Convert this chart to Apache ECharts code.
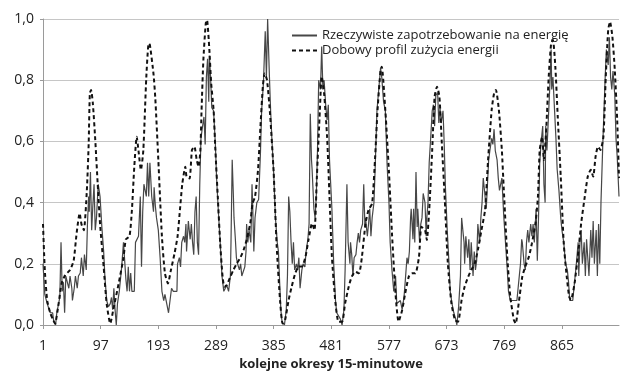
<!DOCTYPE html>
<html>
<head>
<meta charset="utf-8">
<script src="https://cdn.jsdelivr.net/npm/echarts@6/dist/echarts.min.js"></script>
<style>
  html, body { margin: 0; padding: 0; background: #fff; }
  #chart { width: 620px; height: 372px; }
</style>
</head>
<body>
<div id="chart"></div>
<script>
// x axis: 15-minute periods, labels every 96 (one day)
const xTicks = [1, 97, 193, 289, 385, 481, 577, 673, 769, 865];

const actualName = 'Rzeczywiste zapotrzebowanie na energię';
const profileName = 'Dobowy profil zużycia energii';

const actualPeriods = [
  1, 4, 8, 13, 17, 19, 22, 24, 27, 29, 31, 33, 35, 37, 39, 42, 44, 46, 49, 50,
  53, 55, 58, 60, 63, 65, 68, 70, 73, 75, 77, 78, 80, 82, 84, 86, 88, 90, 93, 96,
  99, 102, 104, 107, 110, 113, 115, 117, 119, 121, 123, 125, 128, 132, 135, 138, 139, 141, 143, 145,
  147, 149, 153, 155, 157, 160, 163, 165, 167, 169, 173, 175, 177, 179, 182, 185, 186, 188, 190, 193,
  196, 199, 202, 204, 207, 210, 213, 215, 218, 221, 224, 225, 228, 230, 232, 235, 237, 239, 240, 243,
  246, 248, 250, 252, 254, 256, 258, 260, 262, 264, 266, 269, 271, 273, 275, 277, 278, 280, 282, 285,
  288, 290, 293, 296, 299, 302, 304, 307, 310, 313, 314, 316, 318, 319, 321, 323, 325, 328, 330, 332,
  335, 337, 339, 340, 342, 344, 347, 349, 350, 352, 354, 357, 360, 363, 365, 368, 371, 373, 375, 378,
  380, 382, 385, 388, 391, 393, 395, 397, 399, 403, 406, 408, 410, 412, 414, 416, 418, 420, 423, 425,
  427, 429, 432, 434, 437, 439, 442, 444, 446, 448, 449, 452, 454, 456, 458, 460, 463, 465, 467, 469,
  472, 474, 476, 478, 482, 485, 488, 490, 493, 496, 499, 502, 504, 507, 509, 512, 513, 515, 517, 519,
  522, 524, 526, 528, 530, 533, 535, 537, 538, 541, 543, 545, 547, 549, 552, 554, 557, 560, 563, 565,
  568, 571, 574, 577, 579, 582, 585, 588, 590, 593, 596, 599, 602, 604, 607, 609, 611, 613, 614, 617,
  618, 620, 622, 624, 625, 628, 630, 632, 634, 637, 639, 640, 642, 644, 647, 649, 651, 653, 655, 658,
  660, 662, 664, 667, 669, 671, 674, 677, 679, 682, 685, 688, 690, 693, 696, 698, 700, 702, 703, 705,
  708, 710, 712, 714, 717, 719, 721, 723, 725, 728, 730, 732, 734, 737, 739, 741, 743, 745, 748, 750,
  752, 754, 757, 759, 761, 763, 765, 768, 771, 774, 776, 779, 782, 785, 788, 790, 793, 796, 798, 799,
  802, 804, 806, 808, 810, 813, 815, 817, 819, 822, 824, 826, 828, 830, 833, 835, 837, 838, 840, 843,
  845, 847, 848, 850, 853, 855, 857, 860, 863, 865, 868, 871, 874, 876, 878, 880, 883, 885, 887, 889,
  892, 893, 895, 897, 899, 902, 904, 906, 908, 910, 913, 915, 917, 919, 922, 924, 926, 928, 930, 933,
  935, 937, 939, 942, 944, 946, 948, 950, 953, 955, 957, 960
];
const actualValues = [
  0.20, 0.10, 0.07, 0.04, 0.04, 0.01, 0.00, 0.04, 0.04, 0.09, 0.27, 0.11, 0.14, 0.04, 0.16, 0.16, 0.12, 0.16, 0.12, 0.08,
  0.12, 0.16, 0.12, 0.16, 0.17, 0.22, 0.16, 0.23, 0.18, 0.33, 0.42, 0.37, 0.50, 0.31, 0.39, 0.46, 0.31, 0.35, 0.46, 0.42,
  0.32, 0.24, 0.16, 0.08, 0.06, 0.07, 0.09, 0.05, 0.12, 0.05, 0.00, 0.07, 0.11, 0.19, 0.27, 0.27, 0.15, 0.11, 0.19, 0.11,
  0.17, 0.11, 0.11, 0.27, 0.27, 0.29, 0.42, 0.19, 0.37, 0.46, 0.42, 0.53, 0.42, 0.53, 0.42, 0.37, 0.45, 0.39, 0.35, 0.31,
  0.22, 0.11, 0.08, 0.10, 0.07, 0.04, 0.04, 0.12, 0.11, 0.11, 0.11, 0.20, 0.22, 0.19, 0.27, 0.29, 0.27, 0.33, 0.24, 0.34,
  0.28, 0.33, 0.27, 0.23, 0.37, 0.42, 0.27, 0.23, 0.46, 0.61, 0.64, 0.68, 0.59, 0.81, 0.87, 0.73, 0.88, 0.81, 0.71, 0.70,
  0.59, 0.48, 0.37, 0.27, 0.16, 0.11, 0.11, 0.13, 0.11, 0.16, 0.27, 0.54, 0.42, 0.35, 0.29, 0.22, 0.20, 0.18, 0.20, 0.16,
  0.16, 0.19, 0.24, 0.33, 0.27, 0.31, 0.27, 0.46, 0.40, 0.24, 0.35, 0.40, 0.41, 0.56, 0.70, 0.79, 0.96, 0.81, 1.00, 0.81,
  0.70, 0.61, 0.50, 0.35, 0.27, 0.24, 0.14, 0.05, 0.01, 0.00, 0.05, 0.16, 0.42, 0.37, 0.27, 0.20, 0.27, 0.18, 0.20, 0.18,
  0.22, 0.12, 0.18, 0.20, 0.19, 0.24, 0.28, 0.33, 0.69, 0.54, 0.51, 0.38, 0.35, 0.42, 0.57, 0.80, 0.77, 0.91, 0.77, 0.80,
  0.71, 0.67, 0.72, 0.54, 0.38, 0.20, 0.08, 0.04, 0.04, 0.02, 0.00, 0.05, 0.18, 0.46, 0.27, 0.20, 0.27, 0.23, 0.16, 0.22,
  0.23, 0.27, 0.30, 0.27, 0.31, 0.33, 0.46, 0.32, 0.35, 0.29, 0.33, 0.38, 0.29, 0.35, 0.40, 0.51, 0.70, 0.77, 0.84, 0.81,
  0.73, 0.70, 0.52, 0.40, 0.27, 0.18, 0.11, 0.16, 0.07, 0.07, 0.08, 0.05, 0.09, 0.14, 0.22, 0.20, 0.24, 0.35, 0.38, 0.28,
  0.38, 0.27, 0.50, 0.32, 0.38, 0.27, 0.33, 0.35, 0.43, 0.40, 0.29, 0.35, 0.40, 0.53, 0.63, 0.70, 0.72, 0.65, 0.75, 0.76,
  0.66, 0.71, 0.66, 0.70, 0.59, 0.45, 0.31, 0.20, 0.11, 0.07, 0.04, 0.02, 0.00, 0.06, 0.16, 0.35, 0.35, 0.27, 0.20, 0.29,
  0.22, 0.28, 0.18, 0.27, 0.16, 0.24, 0.18, 0.21, 0.33, 0.27, 0.35, 0.40, 0.48, 0.42, 0.38, 0.46, 0.54, 0.57, 0.61, 0.59,
  0.64, 0.57, 0.54, 0.48, 0.44, 0.46, 0.48, 0.36, 0.27, 0.18, 0.11, 0.08, 0.08, 0.08, 0.08, 0.08, 0.14, 0.20, 0.28, 0.27,
  0.20, 0.18, 0.27, 0.31, 0.27, 0.33, 0.29, 0.33, 0.27, 0.38, 0.21, 0.35, 0.53, 0.59, 0.65, 0.46, 0.40, 0.65, 0.57, 0.70,
  0.79, 0.90, 0.77, 0.81, 0.69, 0.61, 0.51, 0.44, 0.35, 0.31, 0.27, 0.20, 0.18, 0.14, 0.08, 0.08, 0.08, 0.08, 0.16, 0.20,
  0.27, 0.16, 0.27, 0.31, 0.20, 0.27, 0.16, 0.28, 0.22, 0.16, 0.31, 0.22, 0.34, 0.20, 0.31, 0.16, 0.33, 0.20, 0.40, 0.59,
  0.70, 0.81, 0.90, 0.85, 0.94, 0.81, 0.77, 0.83, 0.75, 0.61, 0.55, 0.42
];

// daily consumption profile (black dashed)
const profilePeriods = [
  1, 4, 8, 13, 18, 21, 27, 32, 38, 46, 52, 57, 62, 65, 69, 74, 77, 79, 81, 84,
  88, 92, 96, 102, 107, 113, 118, 127, 135, 139, 145, 149, 153, 157, 160, 164, 168, 173, 177, 179,
  185, 188, 193, 199, 204, 209, 214, 220, 225, 229, 233, 238, 240, 245, 249, 253, 257, 260, 263, 265,
  268, 272, 274, 278, 281, 285, 288, 292, 296, 300, 303, 307, 313, 318, 324, 329, 335, 340, 346, 350,
  354, 359, 363, 367, 370, 374, 379, 385, 390, 396, 400, 404, 410, 415, 421, 427, 432, 438, 443, 449,
  453, 457, 462, 465, 469, 474, 478, 482, 488, 493, 499, 504, 510, 515, 521, 527, 532, 538, 543, 549,
  554, 558, 563, 565, 571, 577, 582, 588, 593, 599, 604, 610, 615, 621, 627, 631, 637, 640, 644, 649,
  653, 657, 661, 665, 670, 675, 681, 687, 692, 698, 703, 709, 714, 720, 725, 731, 737, 742, 748, 752,
  755, 760, 765, 768, 774, 779, 785, 788, 793, 799, 804, 810, 815, 821, 825, 828, 832, 835, 839, 843,
  847, 850, 854, 858, 863, 868, 873, 877, 880, 886, 892, 897, 903, 908, 913, 917, 921, 925, 929, 934,
  938, 942, 945, 949, 953, 957, 960
];
const profileValues = [
  0.33, 0.18, 0.08, 0.04, 0.016, 0.005, 0.07, 0.136, 0.163, 0.18, 0.21, 0.30, 0.365, 0.33, 0.31, 0.44, 0.59, 0.757, 0.768, 0.724,
  0.605, 0.463, 0.33, 0.19, 0.07, 0.005, 0.05, 0.136, 0.22, 0.28, 0.29, 0.375, 0.517, 0.615, 0.57, 0.507, 0.57, 0.81, 0.92, 0.915,
  0.82, 0.74, 0.54, 0.289, 0.169, 0.136, 0.18, 0.234, 0.289, 0.376, 0.463, 0.517, 0.485, 0.479, 0.572, 0.583, 0.539, 0.517, 0.572, 0.703,
  0.866, 0.986, 0.997, 0.899, 0.79, 0.703, 0.572, 0.419, 0.267, 0.158, 0.125, 0.131, 0.158, 0.18, 0.202, 0.218, 0.245, 0.278, 0.332, 0.398,
  0.419, 0.507, 0.648, 0.779, 0.822, 0.80, 0.69, 0.50, 0.26, 0.071, 0.005, 0.016, 0.082, 0.125, 0.169, 0.191, 0.191, 0.223, 0.278, 0.332,
  0.31, 0.485, 0.703, 0.812, 0.757, 0.615, 0.419, 0.223, 0.071, 0.011, 0.011, 0.071, 0.125, 0.158, 0.174, 0.169, 0.223, 0.332, 0.376, 0.398,
  0.55, 0.703, 0.833, 0.844, 0.70, 0.50, 0.30, 0.10, 0.011, 0.049, 0.103, 0.158, 0.169, 0.169, 0.223, 0.321, 0.31, 0.278, 0.376, 0.572,
  0.746, 0.779, 0.746, 0.594, 0.408, 0.202, 0.071, 0.016, 0.011, 0.082, 0.125, 0.158, 0.18, 0.202, 0.245, 0.31, 0.376, 0.539, 0.703, 0.757,
  0.768, 0.703, 0.57, 0.45, 0.223, 0.093, 0.016, 0.005, 0.071, 0.158, 0.191, 0.223, 0.267, 0.332, 0.419, 0.572, 0.615, 0.539, 0.648, 0.812,
  0.92, 0.931, 0.844, 0.681, 0.485, 0.267, 0.158, 0.093, 0.082, 0.136, 0.234, 0.332, 0.419, 0.485, 0.507, 0.485, 0.55, 0.583, 0.572, 0.615,
  0.812, 0.964, 0.991, 0.942, 0.833, 0.67, 0.48
];

const zip = (xs, ys) => xs.map((x, i) => [x, ys[i]]);

const chart = echarts.init(document.getElementById('chart'));
const font = 'Open Sans, Noto Sans, sans-serif';

chart.setOption({
  animation: false,
  backgroundColor: '#fff',
  grid: {left: 43, right: 1, top: 19, bottom: 47, containLabel: false, outerBoundsMode: 'none'},
  legend: {
    orient: 'vertical',
    left: 286,
    top: 24,
    itemWidth: 25,
    itemHeight: 14,
    itemGap: 2,
    itemStyle: {opacity: 0},
    textStyle: {fontFamily: font, fontSize: 13, color: '#222'},
    data: [actualName, profileName]
  },
  xAxis: {
    type: 'value',
    min: 1,
    max: 960,
    name: 'kolejne okresy 15-minutowe',
    nameLocation: 'middle',
    nameGap: 31,
    nameTextStyle: {fontFamily: font, fontSize: 13, fontWeight: 'bold', color: '#222'},
    axisLine: {show: true, lineStyle: {color: '#9a9a9a'}},
    axisTick: {show: true, length: 4, customValues: xTicks, lineStyle: {color: '#9a9a9a'}},
    axisLabel: {customValues: xTicks, margin: 14, fontFamily: font, fontSize: 14, color: '#222'},
    splitLine: {show: false}
  },
  yAxis: {
    type: 'value',
    min: 0,
    max: 1,
    interval: 0.2,
    axisLine: {show: true, lineStyle: {color: '#9a9a9a'}},
    axisTick: {show: true, length: 3, lineStyle: {color: '#9a9a9a'}},
    axisLabel: {
      margin: 9,
      fontFamily: font,
      fontSize: 14,
      color: '#222',
      formatter: v => v.toFixed(1).replace('.', ',')
    },
    splitLine: {lineStyle: {color: '#c6c6c6'}}
  },
  series: [
    {
      name: actualName,
      type: 'line',
      data: zip(actualPeriods, actualValues),
      showSymbol: false,
      symbol: 'none',
      lineStyle: {color: '#474747', width: 1.2},
      itemStyle: {color: '#474747'}
    },
    {
      name: profileName,
      type: 'line',
      data: zip(profilePeriods, profileValues),
      showSymbol: false,
      symbol: 'none',
      smooth: 0.2,
      lineStyle: {color: '#111', width: 2, type: [4, 3]},
      itemStyle: {color: '#111'}
    }
  ]
});
</script>
</body>
</html>
